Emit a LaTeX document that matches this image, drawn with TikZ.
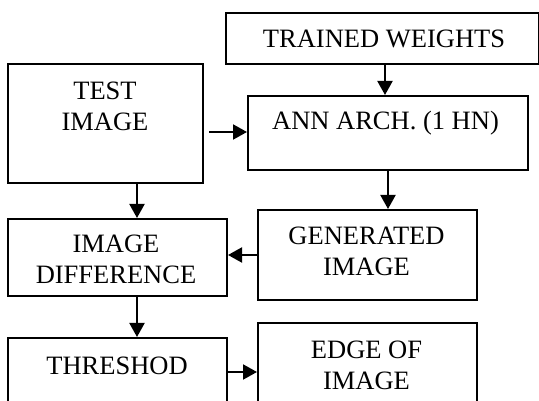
\documentclass[tikz,border=0pt]{standalone}
\usepackage{fontspec}
\setmainfont{Liberation Serif}
\usetikzlibrary{arrows.meta}
\begin{document}
\begin{tikzpicture}[x=1pt,y=-1pt,
  box/.style={draw=black,line width=2pt,rectangle,inner sep=0pt,anchor=north west},
  lbl/.style={font=\fontsize{26.5}{31}\selectfont,align=center,inner sep=0pt},
  arr/.style={line width=2pt,-{Triangle[length=14pt,width=15pt]}}]
\useasboundingbox (0,0) rectangle (539,401);
\clip (0,0) rectangle (539,401);
\fill[white] (0,0) rectangle (539,401);

% boxes (top-left corner, size)
\node[box,minimum width=313pt,minimum height=51pt] (tw) at (225,12) {};
\node[box,minimum width=195pt,minimum height=119pt] (test) at (7,63) {};
\node[box,minimum width=280pt,minimum height=74pt] (ann) at (247,95) {};
\node[box,minimum width=219pt,minimum height=90pt] (gen) at (257,209) {};
\node[box,minimum width=219pt,minimum height=77pt] (diff) at (7,218) {};
\node[box,minimum width=219pt,minimum height=100pt] (thr) at (7,337) {};
\node[box,minimum width=219pt,minimum height=100pt] (edge) at (257,322) {};

% labels
\node[lbl] (twl) at (384,38.5) {TRAINED WEIGHTS};
\node[lbl] (testl) at (105,106.5) {TEST\\IMAGE};
\node[lbl] (annl) at (385.5,123) {ANN ARCH. (1 HN)};
\node[lbl] (genl) at (366.5,251.5) {GENERATED\\IMAGE};
\node[lbl] (diffl) at (116,259.5) {IMAGE\\DIFFERENCE};
\node[lbl] (thrl) at (117,365.5) {THRESHOD};
\node[lbl] (edgel) at (366.5,365) {EDGE OF\\IMAGE};

% connector guide points
\coordinate (colL) at (137,0);
\coordinate (rowA) at (0,132);
\coordinate (colT) at (385,0);
\coordinate (rowB) at (0,372);

% connectors
\draw[arr] ([xshift=5pt]test.east |- rowA) -- (ann.west |- rowA);
\draw[arr] (tw.south -| colT) -- (ann.north -| colT);
\draw[arr] (ann.south) -- (ann.south |- gen.north);
\draw[arr] (test.south -| colL) -- (diff.north -| colL);
\draw[arr] (gen.west) -- (gen.west -| diff.east);
\draw[arr] (diff.south -| colL) -- (thr.north -| colL);
\draw[arr] (thr.east |- rowB) -- (edge.west |- rowB);
\end{tikzpicture}
\end{document}
